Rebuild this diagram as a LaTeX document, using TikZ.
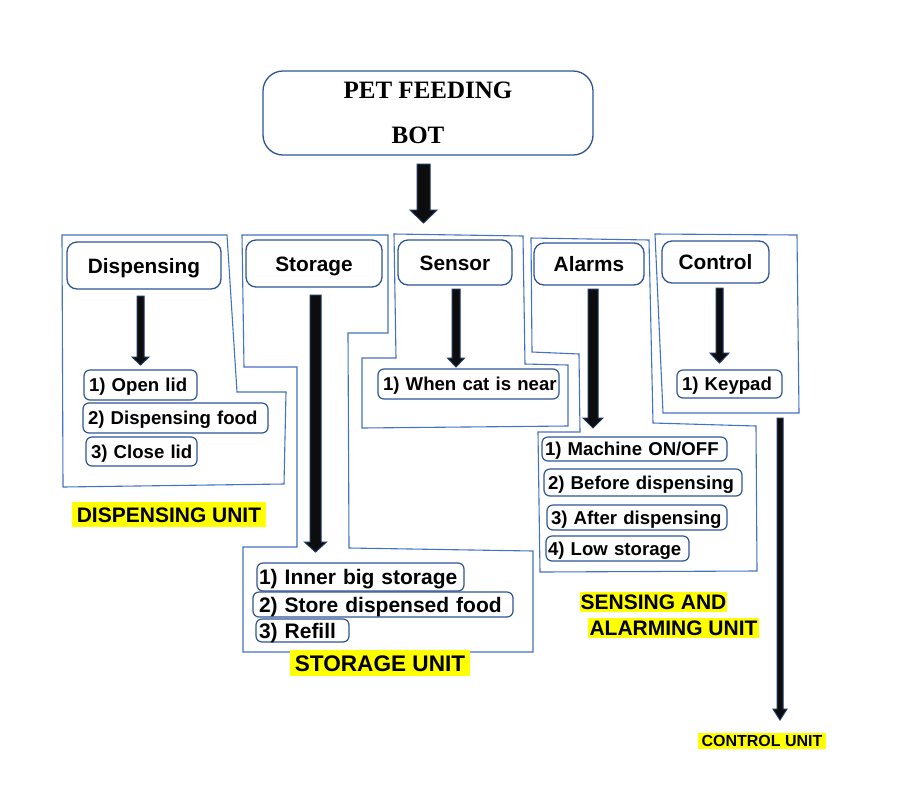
\documentclass[tikz,border=0pt]{standalone}
\usepackage{fontspec}
\setmainfont{Liberation Sans}
\newfontfamily\titlefont{Liberation Serif}
\definecolor{boxblue}{HTML}{2F5597}
\definecolor{lineblue}{HTML}{4472C4}
\definecolor{navy}{HTML}{1F3864}
\definecolor{hl}{HTML}{FFFF00}
\newcommand\blockarr[6]{%
  \filldraw[blk] (#1-#2,#3) -- (#1+#2,#3) -- (#1+#2,#4) -- (#1+#5,#4) -- (#1,#6) -- (#1-#5,#4) -- (#1-#2,#4) -- cycle;}
\tikzset{
  hdr/.style={draw=boxblue, line width=0.65pt, rounded corners=5pt, fill=white,
    font=\fontsize{10.4pt}{12pt}\selectfont\bfseries, inner sep=0pt, text height=7.5pt, text depth=0pt},
  item/.style={draw=boxblue, line width=0.6pt, rounded corners=3pt, fill=white,
    font=\fontsize{9.3pt}{11pt}\selectfont\bfseries, inner xsep=2.5pt, inner ysep=0pt, align=left,
    text height=6.7pt, text depth=0pt},
  sitem/.style={item, font=\fontsize{10.5pt}{12pt}\selectfont\bfseries, text height=7.5pt},
  outl/.style={draw=lineblue, line width=0.55pt},
  blk/.style={fill=black!95, draw=navy, line width=0.5pt},
  hlab/.style={fill=hl, inner sep=0pt, font=\fontsize{10.5pt}{12pt}\selectfont\bfseries,
    text height=7.6pt, text depth=0pt}
}
\begin{document}
\begin{tikzpicture}[x=0.5pt,y=-0.5pt]
\useasboundingbox (0,0) rectangle (900,794);
\fill[white] (0,0) rectangle (900,794);

% group outlines
\draw[outl] (62,235) -- (227,235) -- (237,392) -- (286,392) -- (284,484) -- (63,487) -- cycle;
\draw[outl] (242,235) -- (244,367) -- (297,367) -- (297,547) -- (243,547) -- (243,652) -- (533,652) -- (533,551) -- (349,548) -- (348,333) -- (388,333) -- (388,235) -- cycle;
\draw[outl] (394,234) -- (396,358) -- (362,358) -- (362,428) -- (568,426) -- (568,365) -- (525,364) -- (523,236) -- cycle;
\draw[outl] (531,238) -- (532,352) -- (579,354) -- (580,432) -- (538,432) -- (540,572) -- (757,571) -- (756,426) -- (653,423) -- (649,240) -- cycle;
\draw[outl] (655,234) -- (797,235) -- (799,413) -- (663,413) -- cycle;

% title
\node[draw=boxblue, line width=0.65pt, rounded corners=10pt, fill=white, minimum width=165pt, minimum height=42pt,
  inner sep=0pt, align=center, font=\titlefont\fontsize{12.5pt}{22.5pt}\selectfont\bfseries] (title) at (428,113)
  {PET FEEDING\\BOT\hspace*{10pt}};

% headers
\node[hdr, minimum width=77pt, minimum height=23.5pt] (dh) at (144,265.5) {Dispensing};
\node[hdr, minimum width=68pt, minimum height=23.5pt] (sh) at (314,263.5) {Storage};
\node[hdr, minimum width=57pt, minimum height=22.5pt] (nh) at (455,262.5) {Sensor};
\node[hdr, minimum width=55pt, minimum height=21pt] (ah) at (589,264) {Alarms};
\node[hdr, minimum width=53.5pt, minimum height=21pt] (ch) at (715.5,262) {Control};

% items
\node[item, text width=51.5pt, minimum height=15pt] (d1) at (140.5,385) {\mbox{1) Open lid}};
\node[item, text width=87.5pt, minimum height=15pt] (d2) at (175.5,418) {\mbox{2) Dispensing food}};
\node[item, text width=50.5pt, minimum height=14.5pt] (d3) at (141.5,451.5) {\mbox{3) Close lid}};

\node[sitem, inner xsep=1pt, text width=101.5pt, minimum height=14pt] (s1) at (360.5,577) {\mbox{1) Inner big storage}};
\node[sitem, inner xsep=3pt, text width=124pt, minimum height=12.5pt] (s2) at (383,604.5) {\mbox{2) Store dispensed food}};
\node[sitem, inner xsep=1.5pt, text width=43.5pt, minimum height=11.5pt] (s3) at (302.5,630.5) {\mbox{3) Refill}};

\node[item, text width=85.5pt, minimum height=15pt] (n1) at (468.5,384) {\mbox{1) When cat is near}};

\node[item, inner xsep=1.5pt, text width=89.5pt, minimum height=12pt] (a1) at (634.5,449) {\mbox{1) Machine ON/OFF}};
\node[item, inner xsep=2pt, text width=95pt, minimum height=13.5pt] (a2) at (643,482.5) {\mbox{2) Before dispensing}};
\node[item, inner xsep=2pt, text width=86pt, minimum height=12.5pt] (a3) at (637,517.5) {\mbox{3) After dispensing}};
\node[item, inner xsep=1pt, text width=69.5pt, minimum height=12.5pt] (a4) at (617.5,548.5) {\mbox{4) Low storage}};

\node[item, text width=47.5pt, minimum height=14pt] (k1) at (729.5,384) {\mbox{1) Keypad}};

% block arrows
\blockarr{423.5}{6.5}{164}{210}{13.5}{223}
\blockarr{140.5}{3.5}{296}{357}{8.5}{365}
\blockarr{315.5}{5.5}{295}{542}{11}{552}
\blockarr{456}{4}{289}{358}{8.5}{367}
\blockarr{593}{5}{289}{418}{10}{428}
\blockarr{719.5}{3.5}{288}{353}{9.5}{363}
\blockarr{780}{3}{418}{709}{7}{720}

% unit labels
\node[hlab, minimum width=97pt, minimum height=12.5pt] (lu1) at (169,514.5) {DISPENSING UNIT};
\node[hlab, minimum width=90pt, minimum height=13pt, font=\fontsize{11.3pt}{13pt}\selectfont\bfseries, text height=8.1pt] (lu2) at (380,663) {STORAGE UNIT};
\node[hlab, minimum width=73.5pt, minimum height=10pt] (lu3a) at (653.5,602) {SENSING AND};
\node[hlab, minimum width=85.5pt, minimum height=10pt] (lu3b) at (673.5,628) {ALARMING UNIT};
\node[hlab, minimum width=64pt, minimum height=8pt, font=\fontsize{8pt}{9pt}\selectfont\bfseries, text height=5.8pt] (lu4) at (762,741) {CONTROL UNIT};
\end{tikzpicture}
\end{document}
